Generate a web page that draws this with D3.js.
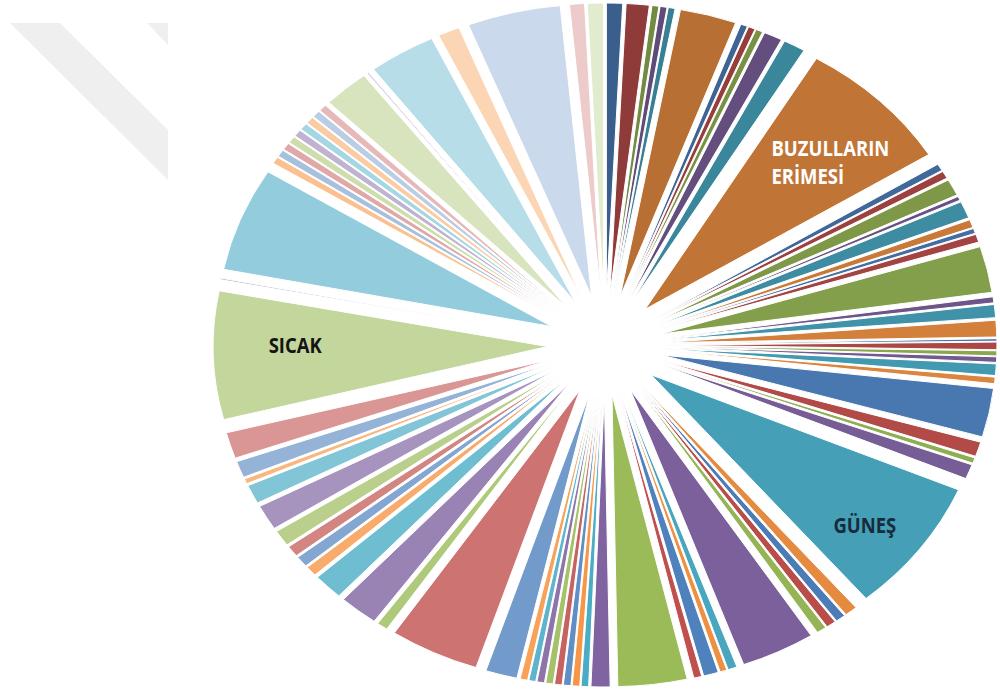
<!DOCTYPE html>
<html>
<head>
<meta charset="utf-8">
<script src="https://cdn.jsdelivr.net/npm/d3@7"></script>
<style>
  body { margin: 0; background: #fff; }
  svg { display: block; }
</style>
</head>
<body>
<div id="container"></div>
<script>
// Slice sizes, clockwise from 12 o'clock (in degrees)
const sliceValues = [
  2.8, 4.0, 1.2, 1.2, 1.2, 9.8, 1.2, 1.2, 1.2, 3.2, 3.8, 27.2,
  1.4, 1.5, 3.3, 0.8, 3.4, 1.6, 1.0, 1.6, 9.2, 1.2, 2.6, 3.3,
  0.5, 1.5, 1.0, 1.1, 2.3, 1.3, 9.7, 2.9, 1.1, 2.9, 26.8, 2.2,
  1.7, 1.7, 1.7, 12.9, 1.6, 1.2, 2.6, 1.4, 12.0, 3.3, 1.3, 1.3,
  1.3, 1.3, 1.3, 1.3, 1.2, 1.3, 5.5, 15.6, 1.9, 6.8, 5.2, 2.0,
  2.2, 2.2, 3.2, 5.0, 3.8, 1.0, 3.3, 5.2, 25.5, 0.3, 20.7, 1.4,
  1.4, 1.4, 1.4, 1.4, 1.4, 1.4, 1.4, 1.4, 8.0, 0.3, 11.7, 3.8,
  16.2, 2.6, 2.8
];

// Only three slices carry a label
const labelNames = ["BUZULLARIN ERİMESİ", "GÜNEŞ", "SICAK"];
const labelSlices = [11, 34, 68];
const labelColors = ["#ffffff", "#172b3c", "#141414"];
const labelNudge = [[5, 13], [7, 16], [5, -8]];

// Office accent palette, varied from dark to light around the pie
const accentColors = ["#4F81BD", "#C0504D", "#9BBB59", "#8064A2", "#4BACC6", "#F79646"];

const width = 1000;
const height = 689;
const cx = 605, cy = 345;
const stretchX = 1.146;   // the pie is drawn a little wider than tall
const explode = 50;
const radius = 292;
const textSquash = 0.9;   // narrow, calibri-like labels

const maxCycle = Math.floor((sliceValues.length - 1) / accentColors.length);
function sliceColor(i) {
  const base = accentColors[i % accentColors.length];
  const t = (Math.floor(i / accentColors.length) - maxCycle / 2) / (maxCycle / 2);
  return t < 0
    ? d3.interpolateRgb(base, "#000")(-t * 0.26)
    : d3.interpolateRgb(base, "#fff")(t * 0.7);
}

const svg = d3.select("#container")
  .append("svg")
  .attr("width", width)
  .attr("height", height);

// faint watermark in the top-left corner
svg.append("g")
  .attr("fill", "#efefef")
  .selectAll("polygon")
  .data([
    [[10, 23], [60, 23], [168, 130], [168, 180]],
    [[147, 23], [168, 23], [168, 45]]
  ])
  .join("polygon")
  .attr("points", d => d.join(" "));

const pie = d3.pie().sort(null).value(d => d);
const arcs = pie(sliceValues);
const arc = d3.arc().innerRadius(0).outerRadius(radius);

const mid = d => (d.startAngle + d.endAngle) / 2;

const pieG = svg.append("g")
  .attr("transform", `translate(${cx},${cy}) scale(${stretchX},1)`);

pieG.selectAll("path")
  .data(arcs)
  .join("path")
  .attr("transform", d => `translate(${explode * Math.sin(mid(d))},${-explode * Math.cos(mid(d))})`)
  .attr("d", arc)
  .attr("fill", (d, i) => sliceColor(i))
  .attr("stroke", "#fff")
  .attr("stroke-width", 1)
  .attr("vector-effect", "non-scaling-stroke");

// labels, placed near the outer end of their slice
const labelArc = d3.arc().innerRadius(radius * 0.77).outerRadius(radius * 0.77);

labelSlices.forEach((si, li) => {
  const d = arcs[si];
  const [px, py] = labelArc.centroid(d);
  const x = cx + stretchX * (px + explode * Math.sin(mid(d))) + labelNudge[li][0];
  const y = cy + py - explode * Math.cos(mid(d)) + labelNudge[li][1];

  const g = svg.append("g");
  const text = g.append("text")
    .attr("transform", `scale(${textSquash},1)`)
    .attr("font-family", "'Open Sans', sans-serif")
    .attr("font-weight", "bold")
    .attr("font-size", 20.5)
    .attr("fill", labelColors[li]);

  labelNames[li].split(" ").forEach((line, k) => {
    text.append("tspan")
      .attr("x", 0)
      .attr("dy", k === 0 ? 0 : 28)
      .text(line);
  });

  const box = text.node().getBBox();
  const bx = box.x * textSquash, bw = box.width * textSquash;
  g.attr("transform", `translate(${x - bx - bw / 2},${y - box.y - box.height / 2})`);
});
</script>
</body>
</html>
